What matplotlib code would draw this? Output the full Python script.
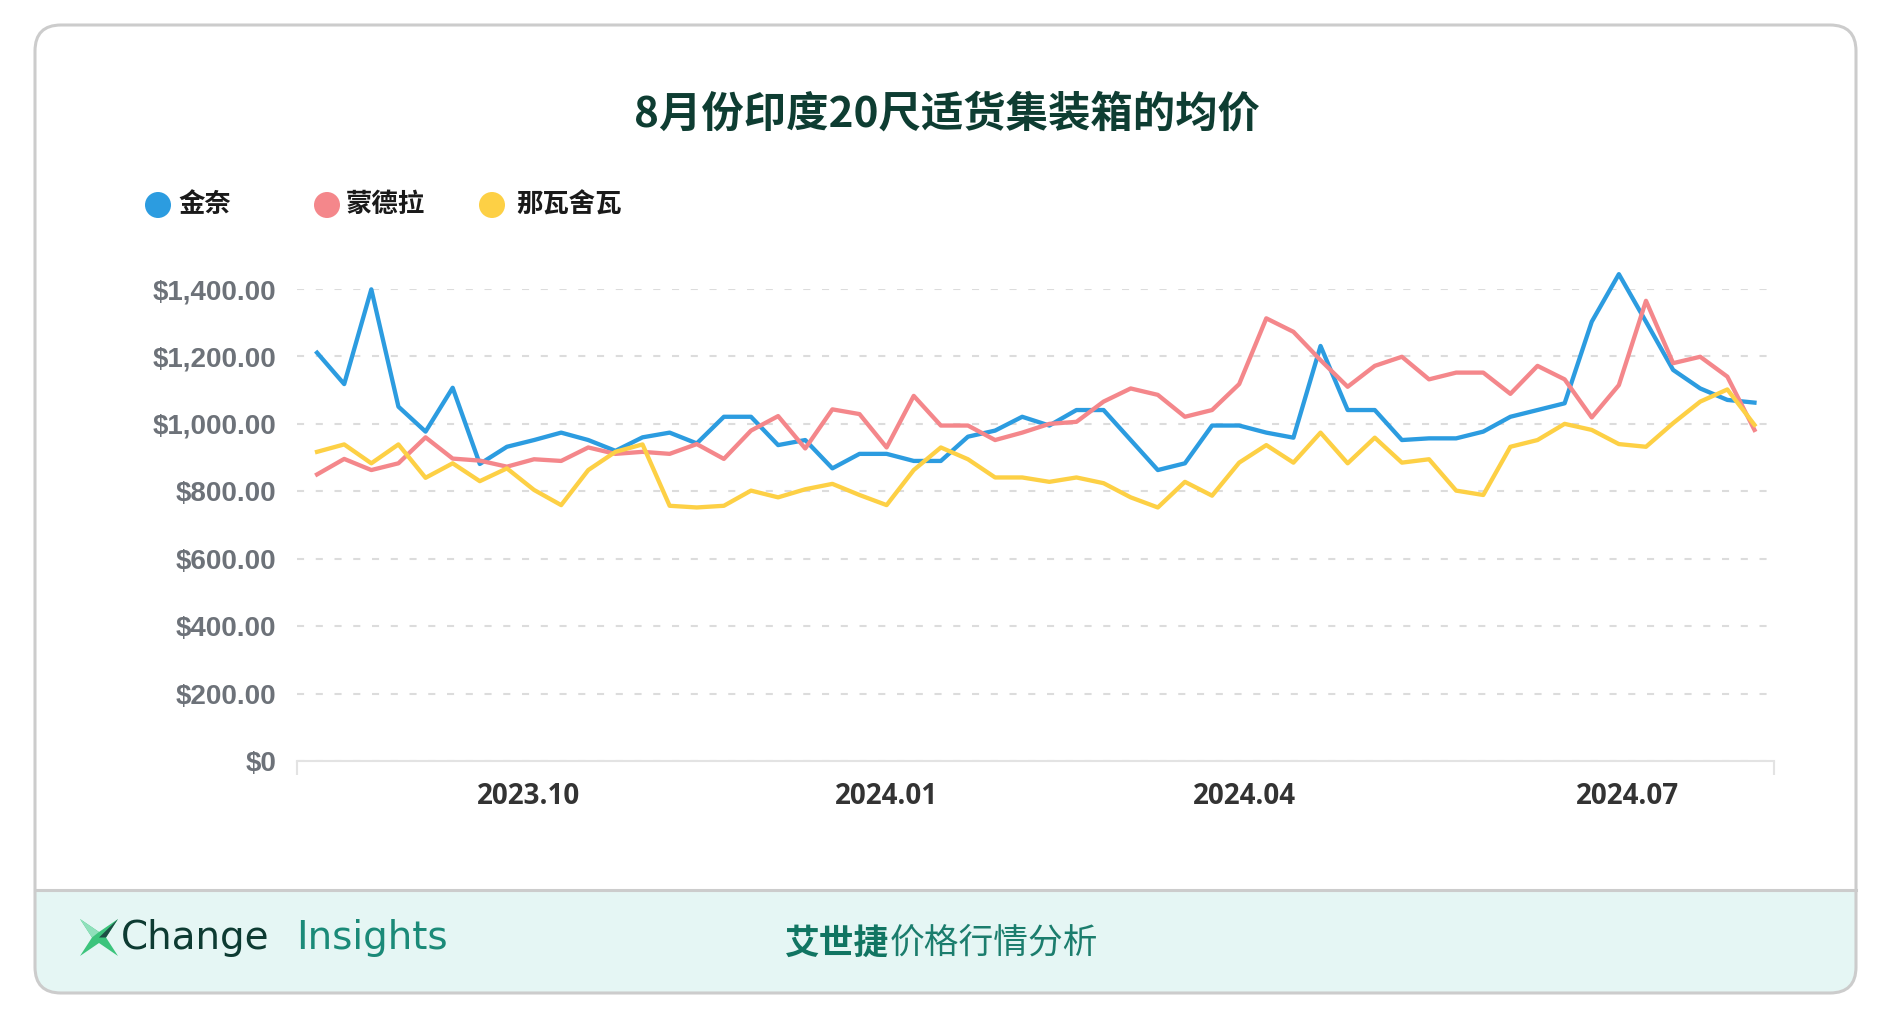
import matplotlib
matplotlib.use("Agg")
import matplotlib.pyplot as plt
import numpy as np
from matplotlib.patches import FancyBboxPatch, Rectangle, Circle, Polygon
from matplotlib.ticker import FuncFormatter

CJK = ['Noto Sans CJK SC', 'DejaVu Sans']

# weekly average price, USD per 20ft container
chennai = [1211, 1118, 1399, 1051, 977, 1107, 881, 932, 952, 974,
           952, 920, 960, 974, 942, 1021, 1021, 937, 952, 868,
           911, 911, 890, 890, 962, 980, 1021, 995, 1041, 1041,
           952, 863, 883, 995, 995, 974, 959, 1231, 1041, 1041,
           952, 957, 957, 977, 1021, 1041, 1061, 1303, 1444, 1303,
           1160, 1105, 1071, 1063]
mundra = [850, 896, 863, 883, 960, 897, 891, 873, 895, 890,
          930, 911, 917, 911, 940, 896, 980, 1023, 927, 1043,
          1029, 930, 1083, 995, 995, 952, 974, 1000, 1006, 1066,
          1105, 1086, 1021, 1041, 1118, 1313, 1273, 1189, 1110, 1172,
          1199, 1132, 1152, 1152, 1089, 1172, 1132, 1019, 1115, 1365,
          1180, 1199, 1140, 982]
nhava = [917, 939, 883, 939, 840, 883, 830, 868, 804, 759,
         863, 917, 939, 757, 752, 757, 802, 782, 806, 822,
         789, 759, 863, 930, 895, 841, 841, 828, 841, 824,
         782, 752, 828, 787, 885, 937, 885, 974, 883, 959,
         885, 895, 802, 789, 932, 952, 1000, 982, 940, 932,
         1002, 1066, 1102, 997]

series_names = ['金奈', '蒙德拉', '那瓦舍瓦']
series_colors = ['#2c9ce0', '#f4878b', '#fdd045']
month_labels = ['2023.10', '2024.01', '2024.04', '2024.07']
month_pos = [7.81, 21.0, 34.2, 48.3]   # week index where each month label sits
y_ticks = [0, 200, 400, 600, 800, 1000, 1200, 1400]
title = '8月份印度20尺适货集装箱的均价'

W, H = 1890, 1026
fig = plt.figure(figsize=(W / 100, H / 100), dpi=100)

# background layer in pixel coords (card + footer)
bg = fig.add_axes([0, 0, 1, 1], zorder=0)
bg.set_xlim(0, W)
bg.set_ylim(H, 0)
bg.axis('off')

card = FancyBboxPatch((35, 25), 1821, 968, boxstyle='round,pad=0,rounding_size=26',
                      fc='white', ec='none')
bg.add_patch(card)
foot = FancyBboxPatch((35, 890), 1821, 103, boxstyle='round,pad=0,rounding_size=26',
                      fc='#e5f6f4', ec='none')
bg.add_patch(foot)
bg.add_patch(Rectangle((35, 890), 1821, 40, fc='#e5f6f4', ec='none'))
bg.plot([35, 1856], [890, 890], color='#cccccc', lw=2.2)
bg.add_patch(FancyBboxPatch((35, 25), 1821, 968, boxstyle='round,pad=0,rounding_size=26',
                            fc='none', ec='#cccccc', lw=2.2))

# title
fig.text(947 / W, 1 - 115 / H, title, ha='center', va='center', fontsize=30.5,
         fontweight='black', color='#0e3d32', family=CJK)

# legend
leg_circle_x = [158, 327, 492]
leg_text_x = [178, 346, 516]
for name, col, cx, tx in zip(series_names, series_colors, leg_circle_x, leg_text_x):
    bg.add_patch(Circle((cx, 205), 13, color=col, ec='none'))
    bg.text(tx, 205, name, ha='left', va='center', fontsize=19, fontweight='bold',
            color='#1a1a1a', family=CJK)

# footer logo
star = Polygon([(80, 919), (99, 932), (118, 919), (106, 937.5), (118, 956),
                (99, 943), (80, 956), (92, 937.5)], closed=True, fc='#3cc47c', ec='none')
bg.add_patch(star)
bg.add_patch(Polygon([(118, 919), (99, 937.5), (106, 937.5)], closed=True,
                     fc='#1d4f45', ec='none'))
bg.add_patch(Polygon([(80, 919), (99, 932), (92, 937.5)], closed=True,
                     fc='#8fe0bb', ec='none'))
bg.text(121, 938, 'Change', ha='left', va='center', fontsize=28, color='#0d3b32',
        family='DejaVu Sans')
bg.text(296, 938, 'Insights', ha='left', va='center', fontsize=28, color='#1a8a78',
        family='DejaVu Sans')
bg.text(785, 943, '艾世捷', ha='left', va='center', fontsize=25, fontweight='bold',
        color='#117562', family=CJK)
bg.text(890, 943, '价格行情分析', ha='left', va='center', fontsize=25,
        color='#1b7d6d', family=CJK)

# main chart
ax = fig.add_axes([297 / W, 265 / H, (1774 - 297) / W, (761 - 289) / H], zorder=2)
ax.patch.set_alpha(0)
x = np.arange(len(chennai))
for vals, col in zip([chennai, mundra, nhava], series_colors):
    ax.plot(x, vals, color=col, lw=3.1, clip_on=False, zorder=3)

ax.set_xlim(-0.74, 53.72)
ax.set_ylim(0, 1400)

ax.set_yticks(y_ticks)
ax.yaxis.set_major_formatter(FuncFormatter(lambda v, p: '$0' if v == 0 else '${:,.2f}'.format(v)))
ax.yaxis.grid(True, linestyle=(0, (3.4, 5.6)), color='#dcdcdc', lw=1.5)
ax.set_axisbelow(True)
ax.tick_params(axis='y', length=0, pad=15, labelsize=20, labelcolor='#6d7279')
for t in ax.get_yticklabels():
    t.set_fontfamily('Liberation Sans')
    t.set_fontweight('bold')

ax.set_xticks(month_pos)
ax.set_xticklabels(month_labels)
ax.set_xticks([-0.74, 53.72], minor=True)
ax.tick_params(axis='x', which='major', length=0, pad=15, labelsize=20, labelcolor='#333333')
ax.tick_params(axis='x', which='minor', length=10, width=1.5, color='#e3e3e3')
for t in ax.get_xticklabels():
    t.set_fontfamily('Open Sans')
    t.set_fontweight('bold')

for s in ['left', 'right', 'top']:
    ax.spines[s].set_visible(False)
ax.spines['bottom'].set_color('#e3e3e3')
ax.spines['bottom'].set_linewidth(1.5)

fig.savefig('out.png', dpi=100)
